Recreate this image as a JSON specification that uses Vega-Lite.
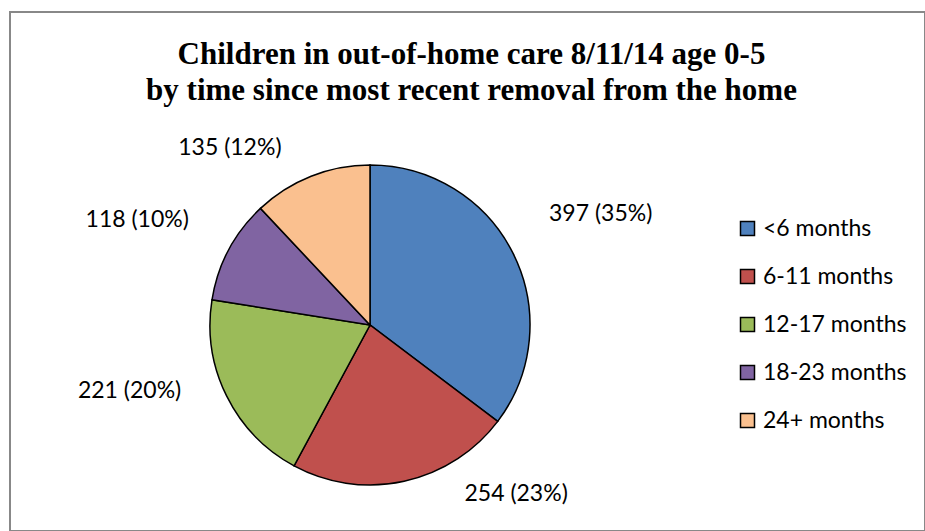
{
  "$schema": "https://vega.github.io/schema/vega-lite/v6.json",
  "width": 915,
  "height": 519,
  "autosize": {"type": "none"},
  "padding": {"left": 10, "top": 12, "right": 0, "bottom": 0},
  "background": "white",
  "view": {"stroke": "#888888", "strokeWidth": 2},
  "title": {
    "text": ["Children in out-of-home care 8/11/14 age 0-5", "by time since most recent removal from the home"],
    "font": "Liberation Serif",
    "fontSize": 31,
    "fontWeight": "bold",
    "color": "black",
    "anchor": "middle",
    "offset": -95,
    "dx": 4,
    "lineHeight": 36
  },
  "data": {
    "values": [
      {"cat": "<6 months", "value": 397, "order": 1, "label": "397 (35%)"},
      {"cat": "6-11 months", "value": 254, "order": 2, "label": "254 (23%)"},
      {"cat": "12-17 months", "value": 221, "order": 3, "label": "221 (20%)"},
      {"cat": "18-23 months", "value": 118, "order": 4, "label": "118 (10%)"},
      {"cat": "24+ months", "value": 135, "order": 5, "label": "135 (12%)"}
    ]
  },
  "encoding": {
    "theta": {"field": "value", "type": "quantitative", "stack": true},
    "order": {"field": "order", "type": "quantitative"},
    "detail": {"field": "cat", "type": "nominal"}
  },
  "layer": [
    {
      "mark": {"type": "arc", "outerRadius": 160, "stroke": "black", "strokeWidth": 1.5, "xOffset": -97.5, "yOffset": 53.5},
      "encoding": {
        "color": {
          "field": "cat",
          "type": "nominal",
          "scale": {
            "domain": ["<6 months", "6-11 months", "12-17 months", "18-23 months", "24+ months"],
            "range": ["#4F81BD", "#C0504D", "#9BBB59", "#8064A2", "#FAC08F"]
          },
          "legend": {
            "title": null,
            "orient": "none",
            "legendX": 726,
            "legendY": 205,
            "symbolType": "square",
            "symbolSize": 196,
            "symbolStrokeColor": "black",
            "symbolStrokeWidth": 1.5,
            "labelFont": "Lato",
            "labelFontSize": 23,
            "labelColor": "black",
            "rowPadding": 24,
            "labelOffset": 4,
            "padding": 0
          }
        }
      }
    },
    {
      "mark": {"type": "text", "radius": 200, "align": "left", "baseline": "middle", "font": "Lato", "fontSize": 23, "fill": "black", "xOffset": -97.5, "yOffset": 53.5, "dy": -22},
      "encoding": {
        "text": {"condition": {"test": "datum.order == 1", "field": "label"}, "value": ""}
      }
    },
    {
      "mark": {"type": "text", "radius": 185, "align": "left", "baseline": "middle", "font": "Lato", "fontSize": 23, "fill": "black", "xOffset": -97.5, "yOffset": 53.5, "dx": 55, "dy": -12},
      "encoding": {
        "text": {"condition": {"test": "datum.order == 2", "field": "label"}, "value": ""}
      }
    },
    {
      "mark": {"type": "text", "radius": 205, "align": "right", "baseline": "middle", "font": "Lato", "fontSize": 23, "fill": "black", "xOffset": -97.5, "yOffset": 53.5, "dx": -5, "dy": -25},
      "encoding": {
        "text": {"condition": {"test": "datum.order == 3", "field": "label"}, "value": ""}
      }
    },
    {
      "mark": {"type": "text", "radius": 205, "align": "right", "baseline": "middle", "font": "Lato", "fontSize": 23, "fill": "black", "xOffset": -97.5, "yOffset": 53.5, "dy": -9},
      "encoding": {
        "text": {"condition": {"test": "datum.order == 4", "field": "label"}, "value": ""}
      }
    },
    {
      "mark": {"type": "text", "radius": 205, "align": "right", "baseline": "middle", "font": "Lato", "fontSize": 23, "fill": "black", "xOffset": -97.5, "yOffset": 53.5, "dx": -13, "dy": 14},
      "encoding": {
        "text": {"condition": {"test": "datum.order == 5", "field": "label"}, "value": ""}
      }
    }
  ]
}
